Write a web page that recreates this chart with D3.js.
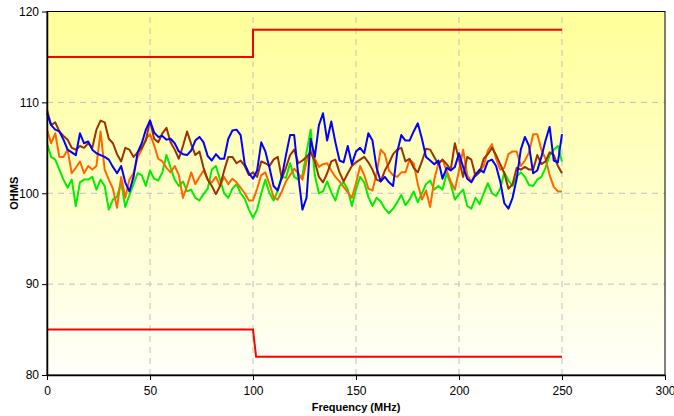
<!DOCTYPE html>
<html><head><meta charset="utf-8">
<script src="https://cdn.jsdelivr.net/npm/d3@7/dist/d3.min.js"></script>
<style>body{margin:0;background:#fff}svg{display:block}text{font-family:"Liberation Sans",Arial,sans-serif}</style>
</head><body>
<script>
// Frequency samples (MHz)
const freq = d3.range(0, 251, 2);
const xTicks = [0, 50, 100, 150, 200, 250, 300];
const yTicks = [80, 90, 100, 110, 120];
// Limit lines
const upperLimitF = [0, 100, 100, 250];
const upperLimitV = [115, 115, 118, 118];
const lowerLimitF = [0, 100, 101.5, 250];
const lowerLimitV = [85, 85, 82, 82];

const blue = [108.8,107.5,107,106.8,105.9,104.8,104.5,104.2,106.6,105.5,105.7,104.8,104.4,104.2,104,103.7,102.9,102.2,103,101.2,100.2,101.8,
104.5,105.5,107,108,106.7,106.2,106.3,105.9,106,105.5,104.6,104.3,104.2,104.7,105.8,106.2,105.6,104.1,103.6,104.3,103.8,
103.8,106,106.9,107,106.4,103.2,102.2,101.6,102.5,105.6,104.6,102.8,100.8,100.3,101.8,104.2,106.4,106.4,101.9,98.2,99.5,
106,104,107.5,108.8,105.8,107.9,105.6,103.6,103.4,105.2,103.2,104.6,105,104.4,106.6,105.8,102.8,101.3,101.8,101.2,100.8,104.5,
106.4,105.8,105.8,106.8,107.7,106,104,103.6,103.2,103.6,101.6,102.8,102.5,102.9,104.4,102.9,101.6,101.2,102,102.6,102.3,
103.5,103.7,103,101.3,98.9,98.3,99.5,101.6,104.8,106.2,105.2,102.2,102.5,104,105.8,107.3,103.6,103.4,106.5];

const brown = [109.2,107.5,107.8,106.8,106.3,105.9,105,104.8,105.2,105,105.5,105,107,108,107.8,106,105.5,104.3,103.5,105,104.8,104,
104.5,105,105.8,108,106,105.6,106.6,107.2,105.6,104.8,103.8,105.2,106.8,105.4,104.2,104.6,102.8,101.5,100.8,99.9,100.8,
102.5,104,104,103.3,103.6,103,102,102.3,101.8,103.5,103.3,103,103.7,104,101.6,102.8,104.2,104.8,103.3,103.6,104,
104.5,103.5,101.8,101.2,102.2,103.5,103.7,102.3,101.3,102.2,103,103.4,103.7,104,103.4,102.6,101.5,101.3,102.5,103.3,104.3,104.8,
105,103.5,103.8,102.8,102.3,103.5,104.9,104.8,104,103.2,103.7,103.2,102.6,105.5,103.7,101.8,104,103.7,101.9,102.3,103.8,
104.3,105,104.2,103.2,102.2,100.5,101,102.8,102.6,102.9,102.6,102.6,104.2,103.2,103.5,104.5,104.2,103,102.2];

const orange = [107,105.5,106.6,104,104,104.8,102.2,102.8,103.5,102.2,103,102.6,103,106.8,102.6,101.5,100.5,98.4,101.8,99.5,101.5,102.2,
104,104.8,106,106.5,105.3,103.8,103.5,102.8,102.3,103,102,99.5,100.8,102.3,101,101.8,102.5,101.5,101.2,101.8,100.8,
101.8,101,101.6,101.2,100.6,100,99.2,99.2,100.5,102,102.3,101,99.6,99.3,100.2,101.3,102,102.7,102.2,101.5,103.5,
104.8,103.8,102.9,103.2,103.3,102.5,101.8,101.3,100.7,100.1,99.5,101.1,103,102,100.5,100.3,102.2,104.8,104.3,102.5,102,101.8,
102.3,102.3,103.7,103.3,101,99.3,100.3,98.5,101.5,103.3,103.7,102.5,101.3,100.4,102.5,104.8,102,101.3,102.2,102.4,103,
104.7,105.4,103.8,102.6,102.8,104.3,104.6,104.6,103,103.6,104.5,106.5,106.5,104.8,103.8,102,100.7,100.2,100.2];

const green = [105.5,104,103.7,102.6,101.5,100.6,101.5,98.6,101.2,101.5,101.5,101.8,100.4,101.5,100.8,98.2,99.3,99.6,101.2,98.5,99.8,101,
102.2,102,100.8,102.5,101.6,101.4,102.3,104.2,102.8,101.5,100.8,101.3,100.2,100.4,99.5,99.2,99.9,100.5,102.6,103,101.5,
100,99.5,100.5,101,100,99.4,98.2,97.3,98.2,100,101.5,100,99.2,100.3,101.8,101.7,103.3,101.8,101.5,102,104.5,
107,102,100,100.2,101.3,100.1,99.2,100.8,101.2,100.4,98.6,100.4,101.8,101.2,99.6,98.6,99.5,99.1,98.3,97.8,98.3,99,
99.8,98.7,99.3,100.2,99,100,101,101.4,100.4,100.8,100.4,102.2,101,99.3,99.9,100.4,98.6,98.3,99.5,98.8,100,
101.1,100,99.7,100.5,102.3,101.4,100.8,101.8,102.3,101.8,100.9,100.8,101.5,101.8,102.8,104.2,104.8,105.2,103.5];

const seriesList = [
  {name: "green", values: green, color: "#00EE00"},
  {name: "orange", values: orange, color: "#FF6600"},
  {name: "brown", values: brown, color: "#993300"},
  {name: "blue", values: blue, color: "#0000FF"}
];

const W = 674, H = 416;
const m = {left: 47, right: 9, top: 11.5, bottom: 41};
const svg = d3.select("body").append("svg").attr("width", W).attr("height", H);
const x = d3.scaleLinear().domain([0, 300]).range([m.left, W - m.right]);
const y = d3.scaleLinear().domain([80, 120]).range([H - m.bottom, m.top]);

const defs = svg.append("defs");
const grad = defs.append("linearGradient").attr("id", "bg").attr("x1", 0).attr("y1", 0).attr("x2", 0).attr("y2", 1);
grad.append("stop").attr("offset", "0%").attr("stop-color", "#FFFF99");
grad.append("stop").attr("offset", "100%").attr("stop-color", "#FFFFFA");

svg.append("rect").attr("x", x(0)).attr("y", y(120)).attr("width", x(300) - x(0)).attr("height", y(80) - y(120)).attr("fill", "url(#bg)");

// grid
const g = svg.append("g");
g.selectAll(".hg").data(yTicks.filter(d => d > 80 && d < 120)).join("line")
  .attr("x1", x(0)).attr("x2", x(300)).attr("y1", d => y(d)).attr("y2", d => y(d))
  .attr("stroke", "#C0C0C0").attr("stroke-width", 1).attr("stroke-dasharray", "6,5");
g.selectAll(".vg").data(xTicks.filter(d => d > 0 && d < 300)).join("line")
  .attr("y1", y(80)).attr("y2", y(120)).attr("x1", d => x(d)).attr("x2", d => x(d))
  .attr("stroke", "#C0C0C0").attr("stroke-width", 1).attr("stroke-dasharray", "6,5");

// frame
svg.append("rect").attr("x", x(0)).attr("y", y(120)).attr("width", x(300) - x(0)).attr("height", y(80) - y(120))
  .attr("fill", "none").attr("stroke", "#000").attr("stroke-width", 1);

const line = d3.line().x((d, i) => x(freq[i])).y(d => y(d));
seriesList.forEach(s => {
  svg.append("path").datum(s.values).attr("d", line).attr("fill", "none")
    .attr("stroke", s.color).attr("stroke-width", 2).attr("stroke-linejoin", "round");
});

const lim = d3.line().x(d => x(d[0])).y(d => y(d[1]));
[[upperLimitF, upperLimitV], [lowerLimitF, lowerLimitV]].forEach(([f, v]) => {
  svg.append("path").datum(f.map((d, i) => [d, v[i]])).attr("d", lim).attr("fill", "none")
    .attr("stroke", "#FF0000").attr("stroke-width", 2);
});

// axes
const xAxis = svg.append("g").attr("transform", `translate(0,${y(80)})`)
  .call(d3.axisBottom(x).tickValues(xTicks).tickSize(5).tickSizeOuter(0).tickPadding(6));
const yAxis = svg.append("g").attr("transform", `translate(${x(0)},0)`)
  .call(d3.axisLeft(y).tickValues(yTicks).tickSize(5).tickSizeOuter(0).tickPadding(3));
[xAxis, yAxis].forEach(a => {
  a.select(".domain").attr("stroke", "#000").attr("stroke-width", 1.5);
  a.selectAll(".tick line").attr("stroke", "#000");
  a.selectAll("text").attr("font-size", 12).attr("fill", "#000").attr("font-family", "Liberation Sans, Arial, sans-serif");
});

svg.append("text").attr("x", (x(0) + x(300)) / 2).attr("y", 411).attr("text-anchor", "middle")
  .attr("font-size", 11).attr("font-weight", "bold").text("Frequency (MHz)");
svg.append("text").attr("transform", `translate(18,${y(100)}) rotate(-90)`).attr("text-anchor", "middle")
  .attr("font-size", 11).attr("font-weight", "bold").text("OHMS");
</script>
</body></html>
